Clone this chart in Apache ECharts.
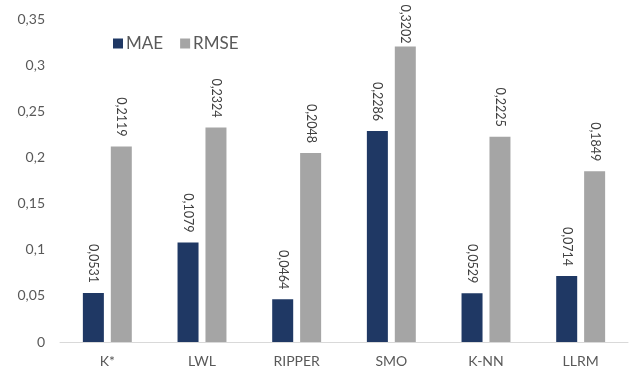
<!DOCTYPE html>
<html>
<head>
<meta charset="utf-8">
<script src="https://cdn.jsdelivr.net/npm/echarts@6/dist/echarts.min.js"></script>
<style>
  html, body { margin: 0; padding: 0; background: #fff; }
  #chart { width: 630px; height: 371px; }
</style>
</head>
<body>
<div id="chart"></div>
<script>
// Error metrics per classifier
const categories = ['K*', 'LWL', 'RIPPER', 'SMO', 'K-NN', 'LLRM'];
const maeValues  = [0.0531, 0.1079, 0.0464, 0.2286, 0.0529, 0.0714];
const rmseValues = [0.2119, 0.2324, 0.2048, 0.3202, 0.2225, 0.1849];
const seriesNames = ['MAE', 'RMSE'];

const FONT = 'Lato, "Open Sans", sans-serif';
const comma = v => String(v).replace('.', ',');

const valueLabel = {
  show: true,
  position: 'top',
  distance: 10,
  rotate: -90,
  align: 'right',
  verticalAlign: 'middle',
  color: '#404040',
  fontFamily: FONT,
  fontSize: 12.5,
  formatter: p => comma(p.value)
};

// Labels of bars near the top of the axis sit closer to the bar so they stay inside the canvas
function withLabels(values) {
  return values.map(v => v > 0.3 ? { value: v, label: { distance: 3 } } : v);
}

const chart = echarts.init(document.getElementById('chart'));
chart.setOption({
  animation: false,
  backgroundColor: '#fff',
  grid: { left: 60, right: 2, top: 19, bottom: 29, containLabel: false },
  legend: {
    data: seriesNames,
    left: 108,
    top: 30,
    itemWidth: 10,
    itemHeight: 10,
    itemGap: 17,
    icon: 'rect',
    textStyle: { color: '#595959', fontFamily: FONT, fontSize: 17, padding: [0, 0, 0, -2] }
  },
  xAxis: {
    type: 'category',
    data: categories,
    axisLine: { lineStyle: { color: '#d9d9d9', width: 1 } },
    axisTick: { show: false },
    axisLabel: { color: '#595959', fontFamily: FONT, fontSize: 14, margin: 12 }
  },
  yAxis: {
    type: 'value',
    min: 0,
    max: 0.35,
    interval: 0.05,
    splitLine: { show: false },
    axisLine: { show: false },
    axisTick: { show: false },
    axisLabel: {
      color: '#595959',
      fontFamily: FONT,
      fontSize: 14,
      margin: 15,
      formatter: v => comma(Math.round(v * 100) / 100)
    }
  },
  series: [
    {
      name: seriesNames[0],
      type: 'bar',
      data: withLabels(maeValues),
      barWidth: 21,
      barGap: '33%',
      itemStyle: { color: '#1f3864' },
      label: valueLabel
    },
    {
      name: seriesNames[1],
      type: 'bar',
      data: withLabels(rmseValues),
      barWidth: 21,
      barGap: '33%',
      itemStyle: { color: '#a5a5a5' },
      label: valueLabel
    }
  ]
});
</script>
</body>
</html>
